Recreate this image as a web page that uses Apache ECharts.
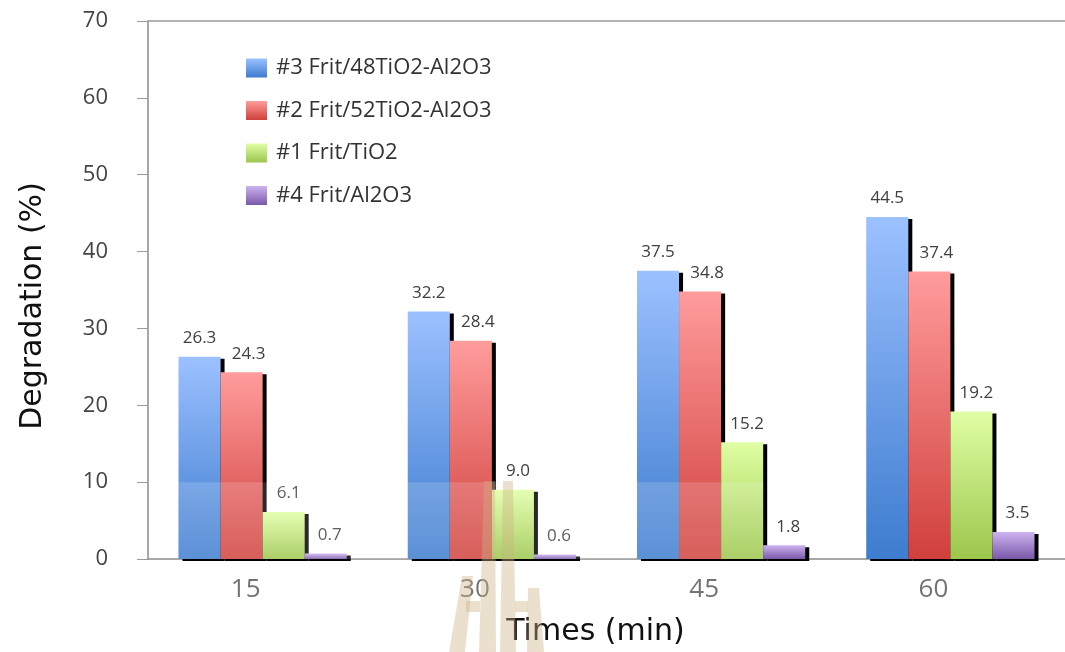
<!DOCTYPE html>
<html>
<head>
<meta charset="utf-8">
<style>
  html, body { margin: 0; padding: 0; background: #ffffff; }
  #chart { width: 1065px; height: 652px; }
</style>
<script src="https://cdn.jsdelivr.net/npm/echarts@6/dist/echarts.min.js"></script>
</head>
<body>
<div id="chart"></div>
<script>
// Photocatalytic degradation of frit coatings over time
const times = ['15', '30', '45', '60'];
const seriesNames = ['#3 Frit/48TiO2-Al2O3', '#2 Frit/52TiO2-Al2O3', '#1 Frit/TiO2', '#4 Frit/Al2O3'];
const frit48 = [26.3, 32.2, 37.5, 44.5];
const frit52 = [24.3, 28.4, 34.8, 37.4];
const fritTiO2 = [6.1, 9.0, 15.2, 19.2];
const fritAl2O3 = [0.7, 0.6, 1.8, 3.5];
const yTicks = [0, 10, 20, 30, 40, 50, 60, 70];

const gradients = [
  ['#9cc1ff', '#3d7ccf'],
  ['#ff9c9c', '#d0403c'],
  ['#e0ffa4', '#9cc64c'],
  ['#cdb4f0', '#7a58a8']
];
// value labels sit a little right of centre on the narrower bars
const labelShift = [0, 7, 5, 4];

function grad(pair) {
  return new echarts.graphic.LinearGradient(0, 0, 0, 1, [
    { offset: 0, color: pair[0] },
    { offset: 1, color: pair[1] }
  ]);
}

const FONT = '"Open Sans", "DejaVu Sans", sans-serif';
const TITLE_FONT = '"DejaVu Sans", sans-serif';
const values = [frit48, frit52, fritTiO2, fritAl2O3];

const chart = echarts.init(document.getElementById('chart'), null, { renderer: 'canvas' });

const option = {
  backgroundColor: '#ffffff',
  animation: false,
  grid: { left: 148, right: -2, top: 21, bottom: 92 },
  legend: {
    orient: 'vertical',
    left: 241, top: 52,
    itemWidth: 21, itemHeight: 19, itemGap: 20.5,
    icon: 'rect',
    data: seriesNames,
    textStyle: { fontFamily: FONT, fontSize: 22, color: '#333', padding: [0, 0, 0, 4] }
  },
  xAxis: [
    {
      type: 'category',
      data: times,
      name: 'Times (min)',
      nameLocation: 'middle',
      nameGap: 58,
      nameTextStyle: { fontFamily: TITLE_FONT, fontSize: 30, color: '#111', padding: [0, 22, 0, 0] },
      axisLine: { show: true, lineStyle: { color: '#8a8a8a', width: 1.5 } },
      axisTick: { show: false },
      axisLabel: { fontFamily: FONT, fontSize: 26, color: '#737373', margin: 18, padding: [0, 34, 0, 0] }
    },
    {
      // plain frame line along the top of the plot
      type: 'category',
      data: times,
      position: 'top',
      axisLine: { show: true, lineStyle: { color: '#9a9a9a', width: 1.5 } },
      axisTick: { show: false },
      axisLabel: { show: false }
    }
  ],
  yAxis: {
    type: 'value',
    min: yTicks[0],
    max: yTicks[yTicks.length - 1],
    interval: 10,
    name: 'Degradation (%)',
    nameLocation: 'middle',
    nameGap: 100,
    nameRotate: 90,
    nameTextStyle: { fontFamily: TITLE_FONT, fontSize: 30, color: '#111', padding: [0, 32, 0, 0] },
    axisLine: { show: true, lineStyle: { color: '#8a8a8a', width: 1.5 } },
    axisTick: { show: true, length: 11, lineStyle: { color: '#9a9a9a' } },
    splitLine: { show: false },
    axisLabel: { fontFamily: FONT, fontSize: 22, color: '#444', margin: 40 }
  },
  series: seriesNames.map((name, i) => ({
    name: name,
    type: 'bar',
    data: values[i],
    barGap: '0%',
    barCategoryGap: '26.6%',
    itemStyle: {
      color: grad(gradients[i]),
      shadowColor: '#000000',
      shadowBlur: 0,
      shadowOffsetX: 4,
      shadowOffsetY: 2
    },
    label: {
      show: true,
      position: 'top',
      distance: 10,
      offset: [labelShift[i], 0],
      fontFamily: FONT,
      fontSize: 17,
      color: '#404040',
      formatter: p => p.value.toFixed(1)
    }
  }))
};

chart.setOption(option);

// Light band over the lower part of the first groups, plus the faint logo mark
function drawOverlay() {
  const x0 = chart.convertToPixel({ xAxisIndex: 0 }, 0);
  const x1 = chart.convertToPixel({ xAxisIndex: 0 }, 1);
  const x2 = chart.convertToPixel({ xAxisIndex: 0 }, 2);
  const band = x1 - x0;
  const barW = band * (1 - 0.266) / 4;
  const yTen = chart.convertToPixel({ yAxisIndex: 0 }, 10);
  const yZero = chart.convertToPixel({ yAxisIndex: 0 }, 0);
  const left = x0 - 2 * barW;
  const right = x2 + barW;

  const mark = 'rgba(205,178,130,0.4)';
  chart.setOption({
    graphic: [
      {
        type: 'rect', z: 100, silent: true,
        shape: { x: left, y: yTen, width: right - left, height: yZero - yTen },
        style: { fill: 'rgba(255,255,255,0.16)' }
      },
      { type: 'polygon', z: 101, silent: true,
        shape: { points: [[449, 652], [465, 652], [473, 576], [462, 576]] }, style: { fill: mark } },
      { type: 'polygon', z: 101, silent: true,
        shape: { points: [[479, 652], [496, 652], [495, 481], [484, 481]] }, style: { fill: mark } },
      { type: 'rect', z: 101, silent: true,
        shape: { x: 466, y: 601, width: 14, height: 11 }, style: { fill: mark } },
      { type: 'polygon', z: 101, silent: true,
        shape: { points: [[500, 652], [516, 652], [513, 481], [503, 481]] }, style: { fill: mark } },
      { type: 'polygon', z: 101, silent: true,
        shape: { points: [[527, 652], [544, 652], [539, 588], [528, 588]] }, style: { fill: mark } },
      { type: 'rect', z: 101, silent: true,
        shape: { x: 515, y: 601, width: 13, height: 11 }, style: { fill: mark } }
    ]
  });
}
drawOverlay();
</script>
</body>
</html>
